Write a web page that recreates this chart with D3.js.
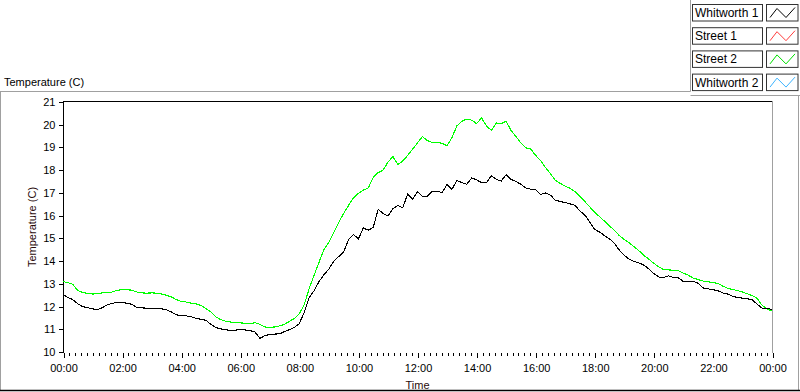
<!DOCTYPE html>
<html>
<head>
<meta charset="utf-8">
<script src="https://cdn.jsdelivr.net/npm/d3@7"></script>
<style>
  html, body { margin: 0; padding: 0; background: #fff; }
  svg { display: block; font-family: "Liberation Sans", Arial, sans-serif; }
</style>
</head>
<body>
<svg id="chart" width="800" height="392"></svg>
<script>
// ---- data (10-minute samples, 00:00 .. 24:00) ----
const sampleMinutes = 10;
const street2 = [
  13.10,13.05,12.98,12.70,12.62,12.58,
  12.55,12.57,12.60,12.62,12.64,12.72,
  12.74,12.74,12.72,12.64,12.60,12.59,
  12.60,12.59,12.55,12.50,12.42,12.31,
  12.22,12.20,12.15,12.12,12.05,11.92,
  11.77,11.55,11.43,11.36,11.32,11.29,
  11.28,11.27,11.24,11.29,11.22,11.10,
  11.09,11.10,11.15,11.22,11.35,11.48,
  11.68,12.08,12.80,13.38,13.95,14.50,
  14.82,15.26,15.70,16.10,16.45,16.79,
  16.98,17.12,17.22,17.68,17.89,18.00,
  18.35,18.60,18.25,18.40,18.65,18.92,
  19.20,19.48,19.30,19.22,19.22,19.18,
  19.07,19.44,19.95,20.15,20.25,20.20,
  20.05,20.30,19.95,19.75,20.08,20.05,
  20.15,19.75,19.48,19.20,18.98,18.93,
  18.65,18.42,18.12,17.85,17.55,17.42,
  17.30,17.20,17.05,16.85,16.62,16.38,
  16.15,15.95,15.75,15.55,15.35,15.12,
  14.95,14.80,14.63,14.45,14.25,14.08,
  13.90,13.75,13.62,13.61,13.60,13.57,
  13.47,13.38,13.25,13.19,13.12,13.09,
  13.05,13.02,12.90,12.80,12.75,12.70,
  12.64,12.56,12.48,12.36,12.05,11.90,
  11.80
];
const whitworth1 = [
  12.52,12.40,12.30,12.12,12.00,11.95,
  11.90,11.86,11.95,12.08,12.14,12.18,
  12.17,12.15,12.10,11.96,11.94,11.93,
  11.93,11.93,11.90,11.86,11.76,11.64,
  11.60,11.59,11.55,11.48,11.44,11.40,
  11.22,11.08,11.02,10.98,10.95,10.96,
  11.00,10.97,10.94,10.88,10.60,10.72,
  10.77,10.79,10.80,10.90,10.98,11.08,
  11.25,11.75,12.40,12.70,13.10,13.40,
  13.65,14.00,14.20,14.40,14.95,15.17,
  14.98,15.46,15.36,15.48,16.27,16.10,
  15.98,16.30,16.45,16.35,16.95,16.72,
  17.05,16.85,16.86,17.06,17.08,17.01,
  17.38,17.16,17.55,17.45,17.38,17.65,
  17.58,17.45,17.45,17.75,17.60,17.52,
  17.80,17.60,17.50,17.38,17.22,17.16,
  17.14,16.93,17.00,16.90,16.68,16.62,
  16.58,16.52,16.45,16.20,16.02,15.72,
  15.39,15.28,15.12,14.98,14.78,14.48,
  14.25,14.08,13.98,13.92,13.82,13.65,
  13.45,13.30,13.28,13.35,13.28,13.26,
  13.10,13.10,13.12,13.02,12.82,12.78,
  12.74,12.70,12.60,12.55,12.45,12.40,
  12.37,12.34,12.30,12.10,11.93,11.93,
  11.86
];
const legendNames = ["Whitworth 1", "Street 1", "Street 2", "Whitworth 2"];
const legendColors = ["#000000", "#ff3c3c", "#00e000", "#3cb4ff"];
const xTickHours = [0,2,4,6,8,10,12,14,16,18,20,22,24];
const yTickValues = [10,11,12,13,14,15,16,17,18,19,20,21];
const chartTitle = "Temperature (C)";
const yAxisTitle = "Temperature (C)";
const xAxisTitle = "Time";

// ---- layout ----
const svg = d3.select("#chart");
const x = d3.scaleLinear().domain([0, 24]).range([63, 772]);
const y = d3.scaleLinear().domain([10, 21]).range([352, 102]);
const gray = "#a0a0a0";

// panel frames
const frame = svg.append("g").attr("fill", "none").attr("stroke", gray).attr("stroke-width", 1);
frame.append("path").attr("d", "M0,91.5H690.5V0");
frame.append("path").attr("d", "M690.5,95.5H800");
frame.append("path").attr("d", "M0.5,91V391");
frame.append("path").attr("d", "M798.5,95V391");
svg.append("path").attr("d", "M0,390.5H800").attr("stroke", "#000").attr("stroke-width", 1.5);

// top title
svg.append("text").attr("x", 4).attr("y", 86).attr("font-size", 11).attr("fill", "#000").text(chartTitle);

// plot frame: top black line, right gray line
svg.append("path").attr("d", `M${x(0)},101.5H${x(24)}`).attr("stroke", "#000").attr("shape-rendering", "crispEdges");
svg.append("path").attr("d", `M${x(24)+0.5},101V353`).attr("stroke", gray).attr("shape-rendering", "crispEdges");

// y axis
const yAxis = svg.append("g").attr("transform", "translate(63.5,0)")
  .call(d3.axisLeft(y).tickValues(yTickValues).tickSize(5).tickSizeOuter(0).tickPadding(3).tickFormat(d3.format("d")));
yAxis.select(".domain").attr("d", "M0,101V352.5").attr("stroke", "#000");
yAxis.selectAll("text").attr("font-size", 11).attr("font-family", "Liberation Sans, Arial, sans-serif").attr("fill", "#000");
yAxis.selectAll("line").attr("shape-rendering", "crispEdges");

// x axis minor ticks (every 12 minutes)
const minorTicks = d3.range(0, 24 * 5 + 1).map(i => i / 5);
const xMinor = svg.append("g").attr("transform", "translate(0.5,353)")
  .call(d3.axisBottom(x).tickValues(minorTicks).tickSize(3).tickFormat(""));
xMinor.select(".domain").remove();
xMinor.selectAll("line").attr("shape-rendering", "crispEdges");

// x axis major ticks + labels
const fmtHour = h => String(h % 24).padStart(2, "0") + ":00";
const xMajor = svg.append("g").attr("transform", "translate(0.5,353)")
  .call(d3.axisBottom(x).tickValues(xTickHours).tickSize(5).tickPadding(6).tickFormat(fmtHour));
xMajor.select(".domain").remove();
xMajor.selectAll("line").attr("shape-rendering", "crispEdges");
xMajor.selectAll("text").attr("font-size", 11).attr("font-family", "Liberation Sans, Arial, sans-serif").attr("fill", "#000");

// axis titles
svg.append("text").attr("transform", "translate(36,227) rotate(-90)").attr("text-anchor", "middle")
  .attr("font-size", 11).attr("fill", "#2a0a0a").text(yAxisTitle);
svg.append("text").attr("x", (x(0) + x(24)) / 2).attr("y", 389).attr("text-anchor", "middle")
  .attr("font-size", 11).attr("fill", "#2a0a0a").text(xAxisTitle);

// series lines
const hourOf = i => i * sampleMinutes / 60;
const line = d3.line().x((d, i) => x(hourOf(i))).y(d => y(d));
svg.append("path").datum(street2).attr("d", line).attr("fill", "none")
  .attr("stroke", "#00ff00").attr("stroke-width", 1.1).attr("shape-rendering", "crispEdges");
svg.append("path").datum(whitworth1).attr("d", line).attr("fill", "none")
  .attr("stroke", "#000").attr("stroke-width", 1.1).attr("shape-rendering", "crispEdges");

// legend
const lg = svg.append("g");
legendNames.forEach((name, i) => {
  const top = 4.5 + i * 23.2;
  lg.append("rect").attr("x", 692.5).attr("y", top).attr("width", 70).attr("height", 16.5)
    .attr("fill", "#fff").attr("stroke", "#333");
  lg.append("text").attr("x", 695).attr("y", top + 12.5).attr("font-size", 12).attr("fill", "#000").text(name);
  lg.append("rect").attr("x", 766.5).attr("y", top).attr("width", 31.5).attr("height", 16.5)
    .attr("fill", "#fff").attr("stroke", "#333");
  const pts = [[770, top + 13], [777, top + 4], [786, top + 13], [795, top + 3]];
  lg.append("path").attr("d", d3.line()(pts)).attr("fill", "none")
    .attr("stroke", legendColors[i]).attr("stroke-width", 1);
});
</script>
</body>
</html>
